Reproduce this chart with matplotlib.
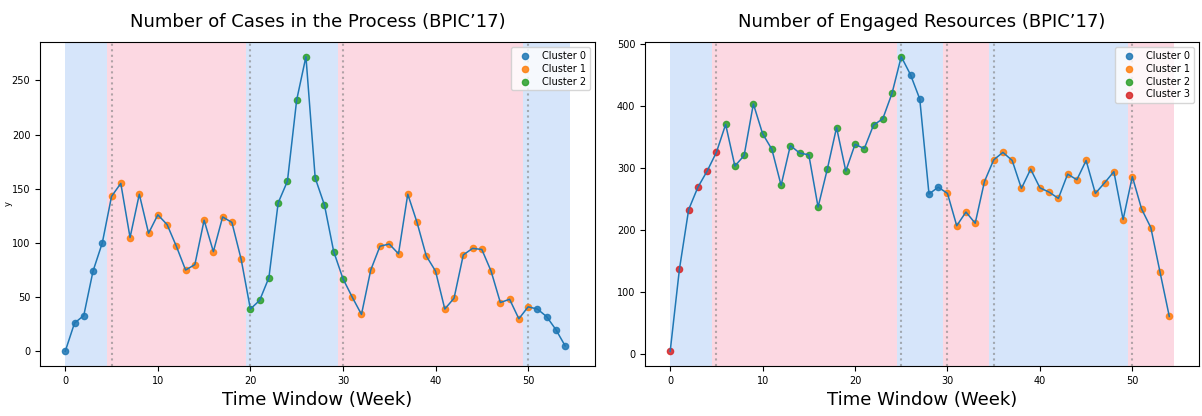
import matplotlib.pyplot as plt
import numpy as np

# data
weeks = list(range(55))

cases = [0, 26, 33, 74, 100, 143, 155, 105, 145, 109,
         126, 117, 97, 75, 80, 121, 92, 124, 119, 85,
         39, 47, 68, 137, 157, 232, 272, 160, 135, 92,
         67, 50, 34, 75, 97, 99, 90, 145, 119, 88,
         74, 39, 49, 89, 95, 94, 74, 45, 48, 30,
         41, 39, 32, 20, 5]
cases_cluster = [0] * 5 + [1] * 15 + [2] * 11 + [1] * 20 + [0] * 4
cases_cp = [5, 20, 30, 50]

resources = [5, 137, 233, 269, 295, 325, 370, 303, 320, 403,
             355, 330, 272, 336, 324, 321, 237, 298, 365, 295,
             338, 331, 369, 379, 420, 479, 450, 411, 258, 269,
             259, 207, 229, 211, 278, 313, 325, 312, 267, 298,
             268, 261, 251, 290, 281, 312, 259, 276, 294, 217,
             286, 234, 204, 132, 61]
resources_cluster = [3] * 6 + [2] * 20 + [0] * 4 + [1] * 25
resources_cp = [5, 25, 30, 35, 50]

cluster_colors = ['#1f77b4', '#ff7f0e', '#2ca02c', '#d62728']
span_colors = ['#d6e5fa', '#fcd8e2']

fig = plt.figure(figsize=(12.02, 4.16), dpi=100)
ax1 = fig.add_axes([0.0333, 0.1202, 0.4617, 0.779])
ax2 = fig.add_axes([0.5366, 0.1202, 0.4610, 0.779])


def draw(ax, y, clusters, cps, n_clusters, title, ylabel=None):
    x = np.array(weeks)
    y = np.array(y)
    clusters = np.array(clusters)

    # alternating background segments between change points
    edges = [0] + [c - 0.5 for c in cps] + [x[-1] + 0.5]
    for i in range(len(edges) - 1):
        ax.axvspan(edges[i], edges[i + 1], color=span_colors[i % 2], lw=0, zorder=0)
    for c in cps:
        ax.axvline(c, color='grey', ls=':', lw=1.5, alpha=0.6, zorder=1)

    for k in range(n_clusters):
        m = clusters == k
        ax.scatter(x[m], y[m], s=20, color=cluster_colors[k], alpha=0.85,
                   label=f'Cluster {k}', zorder=2)
    ax.plot(x, y, color='#1f77b4', lw=1.1, zorder=3)

    ax.set_title(title, fontsize=13, pad=11)
    ax.set_xlabel('Time Window (Week)', fontsize=13)
    if ylabel:
        ax.set_ylabel(ylabel, fontsize=6)
        ax.yaxis.set_label_coords(-0.05, 0.5)
    ax.tick_params(labelsize=7)
    ax.set_xticks([0, 10, 20, 30, 40, 50])
    ax.legend(loc='upper right', fontsize=7, handletextpad=0.8, borderpad=0.4,
              labelspacing=0.3)


draw(ax1, cases, cases_cluster, cases_cp, 3,
     'Number of Cases in the Process (BPIC’17)', ylabel='y')
draw(ax2, resources, resources_cluster, resources_cp, 4,
     'Number of Engaged Resources (BPIC’17)')

fig.savefig('out.png', dpi=100)
